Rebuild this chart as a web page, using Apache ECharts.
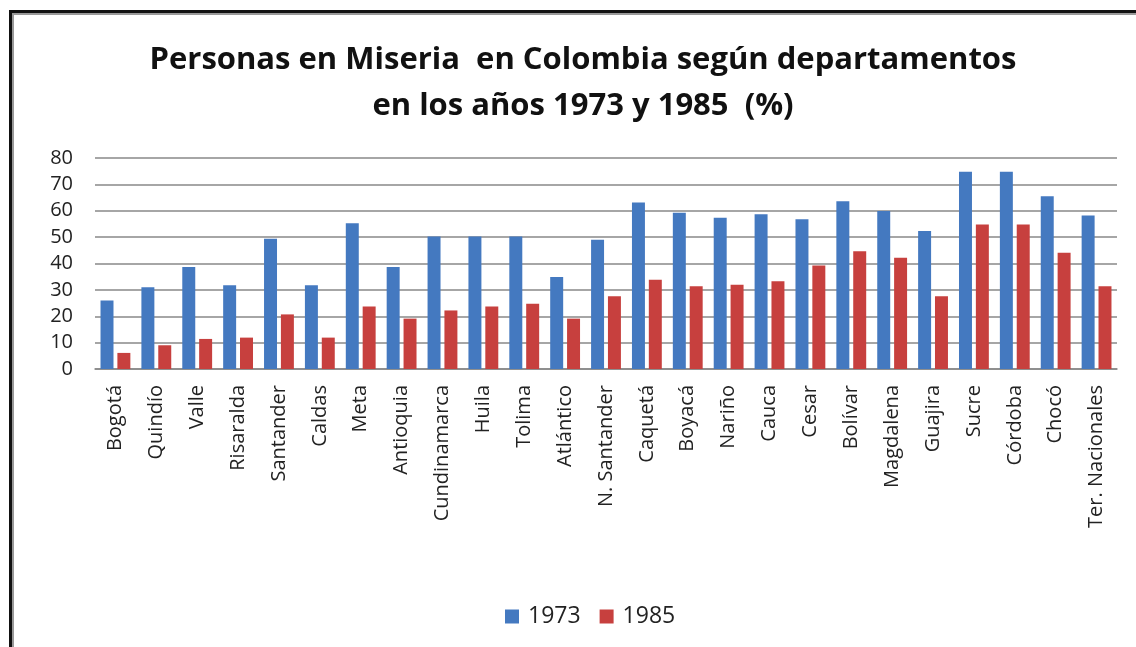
<!DOCTYPE html>
<html>
<head>
<meta charset="utf-8">
<script src="https://cdn.jsdelivr.net/npm/echarts@6/dist/echarts.min.js"></script>
<style>
    html, body {
        margin: 0;
        padding: 0;
        background: #fff;
    }
    #frame {
        position: absolute;
        left: 9px;
        top: 10px;
        width: 1200px;
        height: 700px;
        border-left: 3px solid #111;
        border-top: 3px solid #111;
        box-shadow: inset 2px 2px 0 #999;
    }
    #main {
        position: absolute;
        left: 0;
        top: 0;
        width: 1136px;
        height: 647px;
    }
</style>
</head>
<body>
<div id="frame"></div>
<div id="main"></div>
<script>
    // departamentos
    const categories = ['Bogotá', 'Quindío', 'Valle', 'Risaralda', 'Santander', 'Caldas', 'Meta',
        'Antioquia', 'Cundinamarca', 'Huila', 'Tolima', 'Atlántico', 'N. Santander', 'Caquetá',
        'Boyacá', 'Nariño', 'Cauca', 'Cesar', 'Bolívar', 'Magdalena', 'Guajira', 'Sucre',
        'Córdoba', 'Chocó', 'Ter. Nacionales']
    // % personas en miseria
    const values1973 = [26, 31, 38.7, 31.8, 49.4, 31.8, 55.3, 38.7, 50.2, 50.2, 50.2, 34.9, 49,
        63.1, 59.2, 57.3, 58.7, 56.8, 63.6, 59.9, 52.3, 74.8, 74.8, 65.5, 58.2]
    const values1985 = [6.1, 9, 11.4, 11.9, 20.7, 11.9, 23.7, 19.1, 22.2, 23.7, 24.7, 19.1, 27.6,
        33.8, 31.4, 31.9, 33.3, 39.2, 44.6, 42.2, 27.6, 54.8, 54.8, 44.1, 31.4]
    const yTicks = [0, 10, 20, 30, 40, 50, 60, 70, 80]

    const chart = echarts.init(document.getElementById('main'))
    const font = 'Open Sans'

    const option = {
        animation: false,
        title: {
            text: 'Personas en Miseria  en Colombia según departamentos\nen los años 1973 y 1985  (%)',
            left: 578,
            top: 32,
            textAlign: 'center',
            textStyle: {
                fontFamily: font,
                fontWeight: 'bold',
                fontSize: 31,
                lineHeight: 46,
                color: '#111'
            }
        },
        legend: {
            bottom: 14,
            left: 500,
            itemWidth: 14,
            itemHeight: 14,
            itemGap: 19,
            icon: 'rect',
            textStyle: {
                fontFamily: font,
                fontSize: 23,
                padding: [0, 0, 0, 4],
                color: '#222'
            },
            data: ['1973', '1985']
        },
        grid: {
            left: 95,
            right: 19,
            top: 158,
            bottom: 278,
            containLabel: false
        },
        xAxis: {
            type: 'category',
            data: categories,
            axisLine: {lineStyle: {color: '#888', width: 1.5}},
            axisTick: {show: false},
            axisLabel: {
                rotate: 90,
                interval: 0,
                margin: 16,
                fontFamily: font,
                fontSize: 20,
                color: '#222'
            }
        },
        yAxis: {
            type: 'value',
            min: yTicks[0],
            max: yTicks[yTicks.length - 1],
            interval: 10,
            axisLine: {show: false},
            axisTick: {show: false},
            axisLabel: {
                margin: 22,
                fontFamily: font,
                fontSize: 20,
                color: '#222'
            },
            splitLine: {lineStyle: {color: '#888', width: 1.5}}
        },
        series: [
            {
                name: '1973',
                type: 'bar',
                data: values1973,
                barGap: '30%',
                barCategoryGap: '27%',
                itemStyle: {color: '#4479c0'}
            },
            {
                name: '1985',
                type: 'bar',
                data: values1985,
                itemStyle: {color: '#c7403e'}
            }
        ]
    }
    chart.setOption(option)
</script>
</body>
</html>
